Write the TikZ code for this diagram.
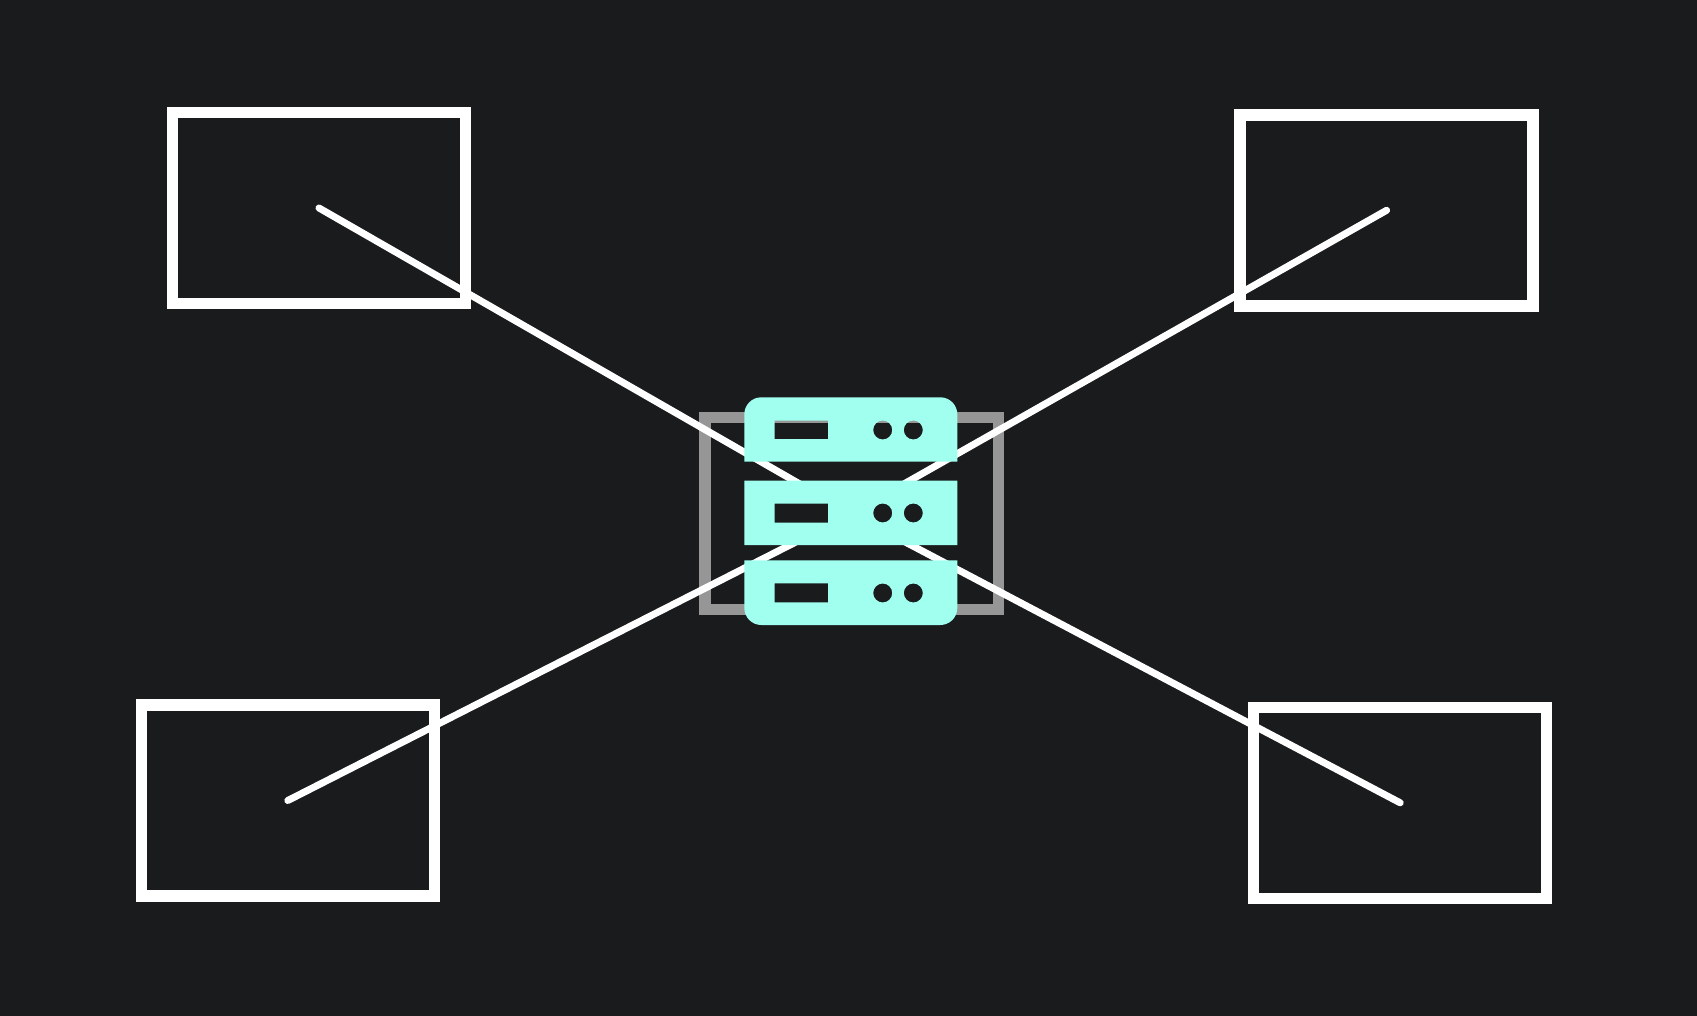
\documentclass[tikz,border=0pt]{standalone}
\definecolor{bgdark}{RGB}{25,27,29}
\definecolor{hubgrey}{RGB}{150,150,150}
\definecolor{mint}{RGB}{160,255,238}

\begin{document}
\begin{tikzpicture}[x=1pt, y=-1pt]
    % Define styles
    \tikzstyle{client} = [rectangle, draw=white, line width=11.5pt, minimum width=293pt, minimum height=191pt, inner sep=0pt]
    \tikzstyle{hub} = [rectangle, draw=hubgrey, line width=11.5pt, minimum width=293.5pt, minimum height=192pt, inner sep=0pt]
    \tikzstyle{link} = [white, line width=7pt, line cap=round, shorten >=50pt]
    \tikzstyle{slab} = [fill=mint, even odd rule]

    % Background
    \fill[bgdark] (0,0) rectangle (1697,1016);
    \useasboundingbox (0,0) rectangle (1697,1016);

    % Nodes
    \node[client] (topleft) at (319,208) {};
    \node[client] (topright) at (1386.6,210.3) {};
    \node[client] (bottomleft) at (287.8,800.5) {};
    \node[client] (bottomright) at (1400.2,802.8) {};
    \node[hub] (server) at (851.5,513.7) {};

    % Links
    \draw[link] (topleft.center) -- (server.center);
    \draw[link] (topright.center) -- (server.center);
    \draw[link] (bottomleft.center) -- (server.center);
    \draw[link] (bottomright.center) -- (server.center);

    % Server icon
    \fill[slab] (744.3,461.7) [rounded corners=17pt] -- (744.3,397.3) -- (957.3,397.3) [sharp corners] -- (957.3,461.7) -- cycle
        (774.7,420.7) rectangle (828,439) (882.7,430) circle[radius=9.5] (913.3,430) circle[radius=9.5];
    \fill[slab] (744.3,480.7) rectangle (957.3,545)
        (774.7,503.7) rectangle (828,522.7) (882.7,513) circle[radius=9.5] (913.3,513) circle[radius=9.5];
    \fill[slab] (744.3,560.3) [rounded corners=17pt] -- (744.3,625) -- (957.3,625) [sharp corners] -- (957.3,560.3) -- cycle
        (774.7,583.3) rectangle (828,602.3) (882.7,593) circle[radius=9.5] (913.3,593) circle[radius=9.5];
\end{tikzpicture}
\end{document}
